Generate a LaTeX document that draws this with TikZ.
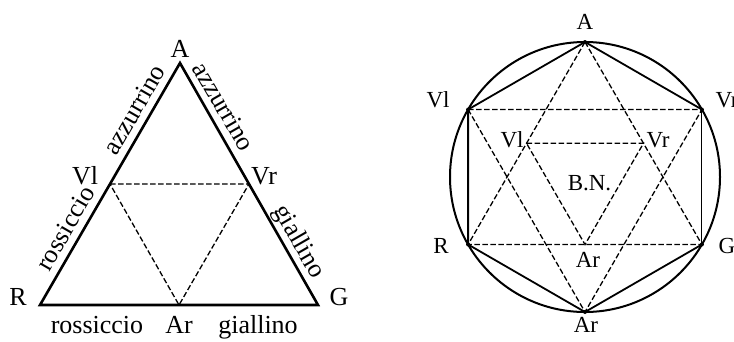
\documentclass[tikz,border=0pt]{standalone}
\usepackage{fontspec}
\setmainfont{Liberation Serif}
\begin{document}
\begin{tikzpicture}[x=1pt,y=-1pt,
  thickedge/.style={line width=2.6pt, line join=miter},
  dashline/.style={line width=1.3pt, dash pattern=on 5.5pt off 2.5pt},
  lbl/.style={font=\fontsize{26}{30}\selectfont, inner sep=0pt, anchor=base},
  rlbl/.style={font=\fontsize{23}{27}\selectfont, inner sep=0pt, anchor=base},
  dotmark/.style={circle, fill=black, inner sep=0pt, minimum size=4pt}]
\useasboundingbox (0,0) rectangle (734,341);
% ---------- left triangle ----------
\coordinate (LA) at (180,63);
\coordinate (LR) at (40,305);
\coordinate (LG) at (318,305);
\coordinate (LVl) at (110,184);
\coordinate (LVr) at (249,184);
\coordinate (LAr) at (179,305);
\draw[thickedge] (LA) -- (LR) -- (LG) -- cycle;
\draw[dashline] (LVl) -- (LVr) -- (LAr) -- cycle;
\node[lbl] (tA) at (180,57) {A};
\node[lbl] (tR) at (18,305) {R};
\node[lbl] (tG) at (339,305) {G};
\node[lbl] (tVl) at (85,184) {Vl};
\node[lbl] (tVr) at (264,184) {Vr};
\node[lbl] (tAr) at (179,333) {Ar};
\node[lbl] (tros) at (97,333) {rossiccio};
\node[lbl] (tgia) at (258,333) {giallino};
\node[lbl, rotate=60] (tazl) at (141.5,113.7) {azzurrino};
\node[lbl, rotate=-60] (tazr) at (216.5,110.7) {azzurrino};
\node[lbl, rotate=60] (trosl) at (72.7,232.5) {rossiccio};
\node[lbl, rotate=-60] (tgiar) at (293,245.1) {giallino};
% ---------- right circle ----------
\coordinate (C) at (585,177);
\coordinate (A) at (585,42);
\coordinate (Vl) at (468.1,109.5);
\coordinate (R) at (468.1,244.5);
\coordinate (Ar) at (585,312);
\coordinate (G) at (701.9,244.5);
\coordinate (Vr) at (701.9,109.5);
\coordinate (iVl) at (526.5,143.25);
\coordinate (iVr) at (643.5,143.25);
\coordinate (iAr) at (585,244.5);
\draw[line width=2pt] (C) circle (135);
\draw[line width=1.8pt, line join=round] (Vr) -- (A) -- (Vl) -- (R) -- (Ar) -- (G);
\draw[line width=1.1pt] (G) -- (Vr);
\draw[dashline] (A) -- (R) -- (G) -- cycle;
\draw[dashline] (Vl) -- (Vr) -- (Ar) -- cycle;
\draw[dashline] (iVl) -- (iVr) -- (iAr) -- cycle;
\foreach \p in {A,Vl,R,Ar,G,Vr} \node[dotmark] at (\p) {};
\node[rlbl] (rA) at (585,29) {A};
\node[rlbl] (rVl) at (438,107) {Vl};
\node[rlbl] (rVr) at (727,107) {Vr};
\node[rlbl] (rR) at (441,253) {R};
\node[rlbl] (rG) at (727,253) {G};
\node[rlbl] (rAr) at (586,332) {Ar};
\node[rlbl] (riVl) at (512,147) {Vl};
\node[rlbl] (riVr) at (658,147) {Vr};
\node[rlbl] (rBN) at (589.5,190) {B.N.};
\node[rlbl] (riAr) at (588,267) {Ar};
\end{tikzpicture}
\end{document}
